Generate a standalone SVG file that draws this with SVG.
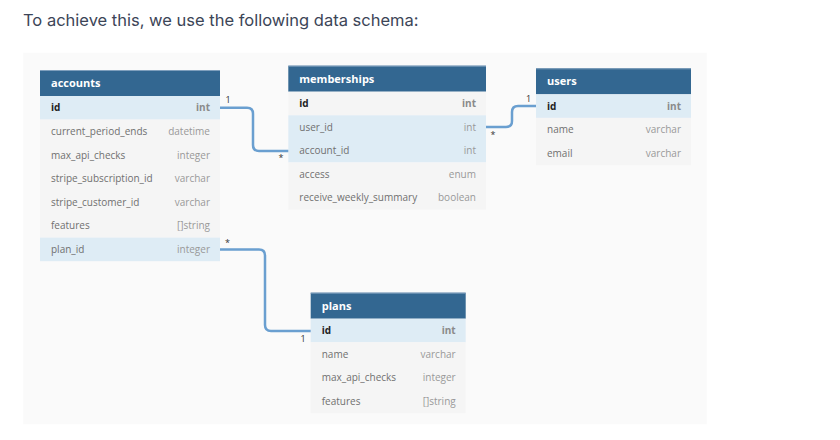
<svg xmlns="http://www.w3.org/2000/svg" width="840" height="440" viewBox="0 0 840 440">
<style>
.bg{fill:#fafafa}
.hdr{fill:#336791}
.hdrtop{stroke:#7f9fbd;stroke-width:1}
.hl{fill:#deecf5}
.rw{fill:#f5f5f5}
.title{font-family:"Open Sans","DejaVu Sans",sans-serif;font-size:11px;font-weight:bold;fill:#ffffff}
.f{font-family:"Open Sans","DejaVu Sans",sans-serif;font-size:10px;fill:#707070}
.fid{font-family:"Open Sans","DejaVu Sans",sans-serif;font-size:10px;font-weight:bold;fill:#222222}
.t{font-family:"Open Sans","DejaVu Sans",sans-serif;font-size:10px;fill:#999999;text-anchor:end}
.tid{font-family:"Open Sans","DejaVu Sans",sans-serif;font-size:10px;font-weight:bold;fill:#8a8a8a;text-anchor:end}
.conn{fill:none;stroke:#6a9fd0;stroke-width:2.5}
.lbl{font-family:"Open Sans","DejaVu Sans",sans-serif;font-size:9px;fill:#333333}
.intro{font-family:Inter,"Liberation Sans",sans-serif;font-size:16.5px;fill:#3c4557}
</style>
<rect width="840" height="440" fill="#ffffff"/>
<text class="intro" x="23" y="25.5">To achieve this, we use the following data schema:</text>
<rect class="bg" x="23.3" y="52.7" width="683.4" height="371.6"/>

<g id="accounts" transform="translate(40,70)">
<rect class="hdr" x="0" y="0" width="180" height="26"/>
<line class="hdrtop" x1="0" y1="0.5" x2="180" y2="0.5"/>
<text class="title" x="11" y="17">accounts</text>
<rect class="hl" x="0" y="26" width="180" height="23.6"/>
<rect class="rw" x="0" y="49.6" width="180" height="118"/>
<rect class="hl" x="0" y="167.6" width="180" height="23.6"/>
<text class="fid" x="11" y="41.3">id</text><text class="tid" x="170" y="41.3">int</text>
<text class="f" x="11" y="64.9">current_period_ends</text><text class="t" x="170" y="64.9">datetime</text>
<text class="f" x="11" y="88.5">max_api_checks</text><text class="t" x="170" y="88.5">integer</text>
<text class="f" x="11" y="112.1">stripe_subscription_id</text><text class="t" x="170" y="112.1">varchar</text>
<text class="f" x="11" y="135.7">stripe_customer_id</text><text class="t" x="170" y="135.7">varchar</text>
<text class="f" x="11" y="159.3">features</text><text class="t" x="170" y="159.3">[]string</text>
<text class="f" x="11" y="182.9">plan_id</text><text class="t" x="170" y="182.9">integer</text>
</g>

<g id="memberships" transform="translate(288.3,65.7)">
<rect class="hdr" x="0" y="0" width="197.7" height="26"/>
<line class="hdrtop" x1="0" y1="0.5" x2="197.7" y2="0.5"/>
<text class="title" x="11" y="17">memberships</text>
<rect class="rw" x="0" y="26" width="197.7" height="23.6"/>
<rect class="hl" x="0" y="49.6" width="197.7" height="47.2"/>
<rect class="rw" x="0" y="96.8" width="197.7" height="47.2"/>
<text class="fid" x="11" y="41.3">id</text><text class="tid" x="187.7" y="41.3">int</text>
<text class="f" x="11" y="64.9">user_id</text><text class="t" x="187.7" y="64.9">int</text>
<text class="f" x="11" y="88.5">account_id</text><text class="t" x="187.7" y="88.5">int</text>
<text class="f" x="11" y="112.1">access</text><text class="t" x="187.7" y="112.1">enum</text>
<text class="f" x="11" y="135.7">receive_weekly_summary</text><text class="t" x="187.7" y="135.7">boolean</text>
</g>

<g id="users" transform="translate(536,68.3)">
<rect class="hdr" x="0" y="0" width="155" height="26"/>
<line class="hdrtop" x1="0" y1="0.5" x2="155" y2="0.5"/>
<text class="title" x="11" y="17">users</text>
<rect class="hl" x="0" y="26" width="155" height="23.6"/>
<rect class="rw" x="0" y="49.6" width="155" height="47.2"/>
<text class="fid" x="11" y="41.3">id</text><text class="tid" x="145" y="41.3">int</text>
<text class="f" x="11" y="64.9">name</text><text class="t" x="145" y="64.9">varchar</text>
<text class="f" x="11" y="88.5">email</text><text class="t" x="145" y="88.5">varchar</text>
</g>

<g id="plans" transform="translate(310.7,292.7)">
<rect class="hdr" x="0" y="0" width="155" height="26"/>
<line class="hdrtop" x1="0" y1="0.5" x2="155" y2="0.5"/>
<text class="title" x="11" y="17">plans</text>
<rect class="hl" x="0" y="26" width="155" height="23.6"/>
<rect class="rw" x="0" y="49.6" width="155" height="70.8"/>
<text class="fid" x="11" y="41.3">id</text><text class="tid" x="145" y="41.3">int</text>
<text class="f" x="11" y="64.9">name</text><text class="t" x="145" y="64.9">varchar</text>
<text class="f" x="11" y="88.5">max_api_checks</text><text class="t" x="145" y="88.5">integer</text>
<text class="f" x="11" y="112.1">features</text><text class="t" x="145" y="112.1">[]string</text>
</g>

<g id="connectors">
<path class="conn" d="M220,107.8 H247 Q253,107.8 253,113.8 V145 Q253,151 259,151 H288.3"/>
<path class="conn" d="M486,127 H506 Q512,127 512,121 V112 Q512,106 518,106 H536"/>
<path class="conn" d="M220,249.4 H259 Q265,249.4 265,255.4 V325 Q265,331 271,331 H310.7"/>
<text class="lbl" x="225.5" y="102.5">1</text>
<text class="lbl" x="278.5" y="161">*</text>
<text class="lbl" x="490.5" y="138">*</text>
<text class="lbl" x="526" y="101.5">1</text>
<text class="lbl" x="225" y="246">*</text>
<text class="lbl" x="300.5" y="341.5">1</text>
</g>
</svg>
